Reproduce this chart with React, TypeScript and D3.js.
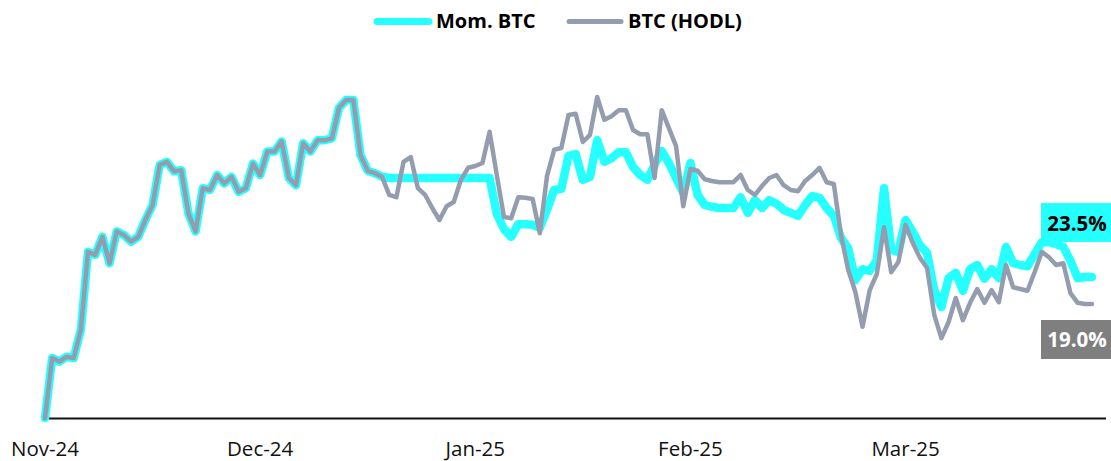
import React, { useEffect, useRef } from 'react';
import * as d3 from 'd3';

// daily returns (cumulative %), Nov-24 .. end of Mar-25
const momBtc = [
  0, 10.0, 9.4, 10.2, 10.0, 14.7, 27.7, 27.2, 30.2, 25.8,
  31.1, 30.5, 29.4, 30.2, 33.0, 35.5, 42.2, 42.7, 41.1, 41.3,
  34.1, 31.1, 38.3, 38.0, 40.5, 39.1, 40.2, 37.7, 38.3, 42.4,
  40.5, 44.4, 44.4, 46.1, 40.0, 38.8, 45.8, 44.4, 46.3, 46.3,
  46.6, 51.7, 53.0, 53.0, 43.8, 41.2, 40.8, 40.2, 40.0, 40.0,
  40.0, 40.0, 40.0, 40.0, 40.0, 40.0, 40.0, 40.0, 40.0, 40.0,
  40.0, 40.0, 40.0, 34.0, 31.5, 30.2, 32.3, 32.3, 32.2, 31.7,
  34.7, 38.0, 38.2, 43.7, 44.0, 39.7, 40.2, 46.3, 42.7, 43.3,
  44.3, 44.3, 41.8, 40.5, 39.7, 42.2, 44.5, 42.5, 40.0, 37.5,
  42.5, 37.2, 35.5, 35.2, 35.0, 35.0, 35.0, 36.8, 34.2, 36.3,
  35.0, 36.3, 35.7, 34.7, 34.2, 33.7, 35.5, 37.0, 36.7, 35.0,
  33.7, 30.0, 28.3, 23.0, 24.8, 24.5, 26.3, 38.3, 28.0, 27.7,
  33.0, 31.0, 28.8, 27.5, 21.3, 18.5, 23.3, 24.2, 21.2, 24.8,
  25.5, 23.2, 24.8, 23.3, 28.5, 25.8, 25.5, 25.3, 27.3, 29.3,
  29.3, 29.0, 28.5, 26.2, 23.3, 23.5, 23.5,
];

const btcHodl = [
  0, 10.0, 9.4, 10.2, 10.0, 14.7, 27.7, 27.2, 30.2, 25.8,
  31.1, 30.5, 29.4, 30.2, 33.0, 35.5, 42.2, 42.7, 41.1, 41.3,
  34.1, 31.1, 38.3, 38.0, 40.5, 39.1, 40.2, 37.7, 38.3, 42.4,
  40.5, 44.4, 44.4, 46.1, 40.0, 38.8, 45.8, 44.4, 46.3, 46.3,
  46.6, 51.7, 53.0, 53.0, 43.8, 41.2, 40.8, 40.2, 37.2, 36.8,
  42.7, 43.5, 38.3, 37.2, 35.0, 33.0, 35.3, 36.0, 39.7, 41.7,
  42.0, 42.5, 47.7, 40.5, 33.5, 33.3, 36.8, 36.7, 36.5, 30.8,
  40.3, 44.7, 45.0, 50.5, 50.7, 46.0, 47.2, 53.5, 49.7, 50.3,
  51.3, 51.3, 48.0, 47.3, 47.3, 40.0, 51.3, 48.3, 45.3, 35.3,
  41.5, 41.2, 39.8, 39.5, 39.3, 39.3, 39.3, 40.5, 38.0, 37.2,
  38.7, 40.0, 40.5, 38.8, 38.0, 37.8, 39.5, 40.5, 41.7, 39.3,
  39.0, 30.5, 24.7, 21.0, 15.2, 21.3, 24.0, 31.8, 24.3, 26.0,
  32.2, 29.2, 26.7, 25.0, 17.2, 13.3, 16.0, 20.0, 16.3, 19.2,
  21.5, 19.2, 21.3, 19.3, 25.5, 21.8, 21.5, 21.2, 24.3, 27.7,
  26.8, 25.5, 25.8, 20.8, 19.2, 19.0, 19.0,
];

const tickLabels = ['Nov-24', 'Dec-24', 'Jan-25', 'Feb-25', 'Mar-25'];
const tickEvery = 30;

const CYAN = '#26FFFF';
const GREY = '#949DB0';
const FONT = '"Open Sans", sans-serif';

function App() {
  const svgRef = useRef<SVGSVGElement>(null);
  const width = 1111;
  const height = 461;

  useEffect(() => {
    const svg = d3.select(svgRef.current);
    svg.selectAll('*').remove();

    const n = momBtc.length;
    const x = d3.scaleLinear().domain([0, n - 1]).range([45, 1092]);
    const y = d3.scaleLinear().domain([0, 60]).range([418, 58]);

    // axis line
    svg.append('line')
      .attr('x1', x(0) + 4).attr('x2', x(n - 1) + 14)
      .attr('y1', y(0) + 0.5).attr('y2', y(0) + 0.5)
      .attr('stroke', '#111').attr('stroke-width', 2);

    tickLabels.forEach((t, i) => {
      svg.append('text')
        .attr('x', x(i * tickEvery)).attr('y', 456)
        .attr('text-anchor', 'middle')
        .attr('font-family', FONT).attr('font-size', 20.5)
        .attr('fill', '#111')
        .text(t);
    });

    const line = d3.line<number>()
      .x((d, i) => x(i))
      .y(d => y(d));

    svg.append('path')
      .datum(momBtc)
      .attr('fill', 'none')
      .attr('stroke', CYAN)
      .attr('stroke-width', 8.5)
      .attr('stroke-linejoin', 'round')
      .attr('stroke-linecap', 'round')
      .attr('d', line);

    svg.append('path')
      .datum(btcHodl)
      .attr('fill', 'none')
      .attr('stroke', GREY)
      .attr('stroke-width', 4.5)
      .attr('stroke-linejoin', 'round')
      .attr('stroke-linecap', 'round')
      .attr('d', line);

    // end labels
    const lastMom = momBtc[n - 1];
    const lastHodl = btcHodl[n - 1];
    const lx = x(n - 1) - 16;
    const g1 = svg.append('g');
    g1.append('rect')
      .attr('x', lx - 35).attr('y', y(lastMom) - 74)
      .attr('width', 70).attr('height', 39)
      .attr('fill', CYAN);
    g1.append('text')
      .attr('x', lx + 1).attr('y', y(lastMom) - 46)
      .attr('text-anchor', 'middle')
      .attr('font-family', FONT).attr('font-size', 20.5).attr('font-weight', 700)
      .attr('fill', '#000')
      .text(lastMom.toFixed(1) + '%');

    const g2 = svg.append('g');
    g2.append('rect')
      .attr('x', lx - 35).attr('y', y(lastHodl) + 16)
      .attr('width', 70).attr('height', 39)
      .attr('fill', '#7F7F7F');
    g2.append('text')
      .attr('x', lx + 1).attr('y', y(lastHodl) + 43)
      .attr('text-anchor', 'middle')
      .attr('font-family', FONT).attr('font-size', 20.5).attr('font-weight', 700)
      .attr('fill', '#fff')
      .text(lastHodl.toFixed(1) + '%');

    // legend
    const legend = [
      { name: 'Mom. BTC', color: CYAN, w: 7, x0: 377 },
      { name: 'BTC (HODL)', color: GREY, w: 5, x0: 569 },
    ];
    legend.forEach(l => {
      svg.append('line')
        .attr('x1', l.x0).attr('x2', l.x0 + 52)
        .attr('y1', 21.5).attr('y2', 21.5)
        .attr('stroke', l.color).attr('stroke-width', l.w)
        .attr('stroke-linecap', 'round');
      svg.append('text')
        .attr('x', l.x0 + 59).attr('y', 28)
        .attr('font-family', FONT).attr('font-size', 20).attr('font-weight', 700)
        .attr('fill', '#000')
        .text(l.name);
    });
  }, []);

  return (
    <svg
      ref={svgRef}
      width={width}
      height={height}
      style={{ position: 'absolute', left: 0, top: 0, background: '#fff' }}
    />
  );
}

export default App;
